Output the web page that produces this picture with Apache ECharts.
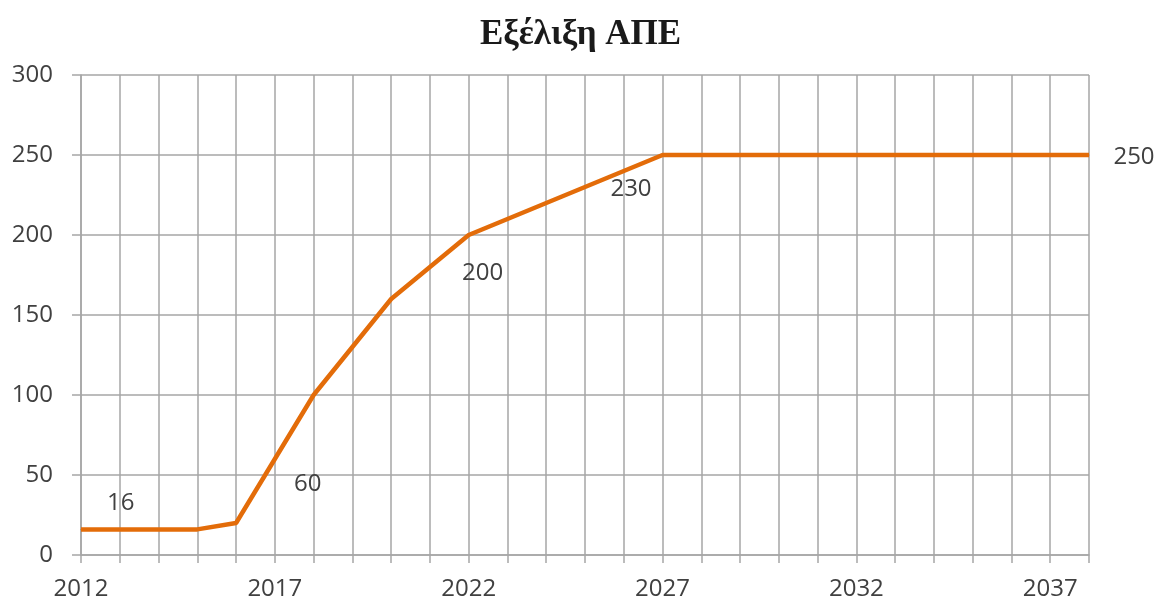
<!DOCTYPE html>
<html>
<head>
<meta charset="utf-8">
<script src="https://cdn.jsdelivr.net/npm/echarts@6/dist/echarts.min.js"></script>
<style>
html,body{margin:0;padding:0;background:#fff;}
#chart{width:1161px;height:601px;}
</style>
</head>
<body>
<div id="chart"></div>
<script>
const titleText = 'Εξέλιξη ΑΠΕ';
const years = ['2012','2013','2014','2015','2016','2017','2018','2019','2020','2021','2022','2023','2024','2025','2026','2027','2028','2029','2030','2031','2032','2033','2034','2035','2036','2037','2038'];
const values = [16,16,16,16,20,60,100,130,160,180,200,210,220,230,240,250,250,250,250,250,250,250,250,250,250,250,250];
const labelledYears = ['2013','2017','2022','2025','2038'];
const yTicks = [0,50,100,150,200,250,300];

// label placement offsets (style, not data)
const labelOffsets = {'2013':[1,-26],'2017':[33,25],'2022':[14,38],'2025':[46,2],'2038':[45,2]};

const seriesData = years.map((y, i) => {
  if (labelledYears.includes(y)) {
    return {value: values[i], label: {show: true, position: 'inside', offset: labelOffsets[y]}};
  }
  return values[i];
});

const chart = echarts.init(document.getElementById('chart'));
const textColor = '#404040';
const gridColor = '#a6a6a6';
chart.setOption({
  animation: false,
  backgroundColor: '#ffffff',
  title: {
    text: titleText,
    left: 'center',
    top: 12,
    padding: [5, 17, 5, 5],
    textStyle: {fontFamily: 'Liberation Serif', fontWeight: 'bold', fontSize: 35, color: '#1a1a1a'}
  },
  grid: {left: 81, right: 72, top: 75, bottom: 46, containLabel: false},
  xAxis: {
    type: 'category',
    data: years,
    boundaryGap: false,
    axisLine: {show: true, lineStyle: {color: gridColor, width: 1.5}},
    axisTick: {show: true, interval: 0, length: 8, lineStyle: {color: gridColor, width: 1.5}},
    splitLine: {show: true, interval: 0, lineStyle: {color: gridColor, width: 1.5}},
    axisLabel: {interval: 4, margin: 22, fontFamily: 'Open Sans', fontSize: 24, color: textColor}
  },
  yAxis: {
    type: 'value',
    min: yTicks[0],
    max: yTicks[yTicks.length - 1],
    interval: yTicks[1] - yTicks[0],
    axisLine: {show: true, lineStyle: {color: gridColor, width: 1.5}},
    axisTick: {show: true, length: 9, lineStyle: {color: gridColor, width: 1.5}},
    splitLine: {show: true, lineStyle: {color: gridColor, width: 1.5}},
    axisLabel: {margin: 28, fontFamily: 'Open Sans', fontSize: 24, color: textColor}
  },
  series: [{
    type: 'line',
    data: seriesData,
    symbol: 'circle',
    symbolSize: 1,
    showSymbol: true,
    lineStyle: {color: '#e36c09', width: 4.5},
    itemStyle: {color: '#e36c09'},
    label: {show: false, fontFamily: 'Open Sans', fontSize: 24, color: textColor},
    emphasis: {disabled: true}
  }]
});
</script>
</body>
</html>
